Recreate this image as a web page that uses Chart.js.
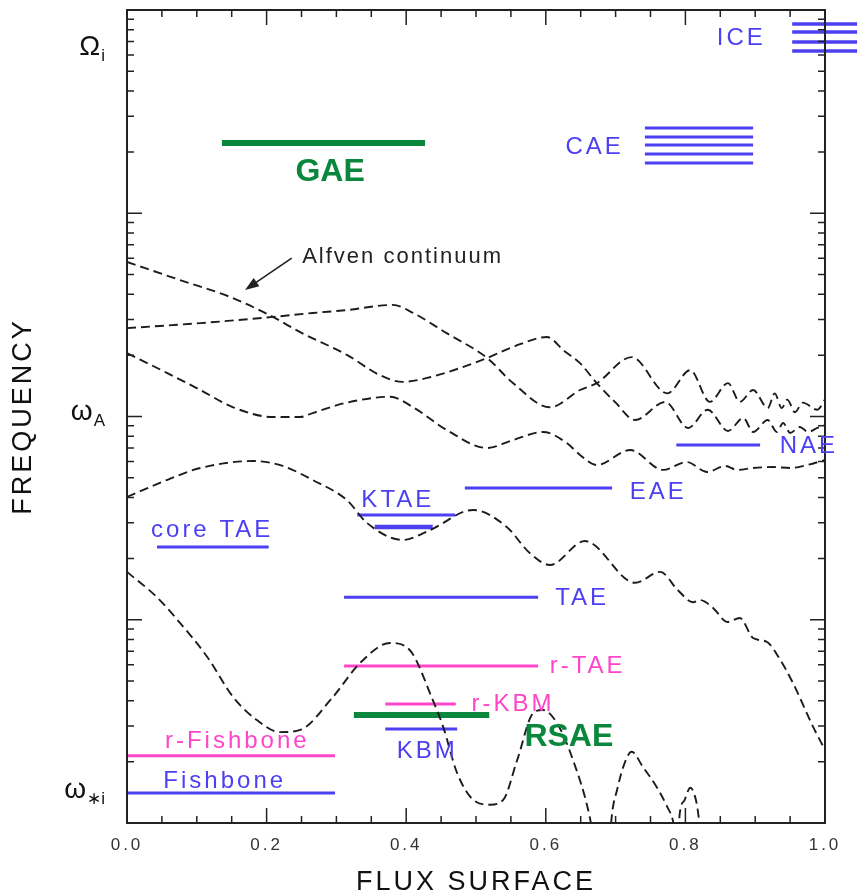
<!DOCTYPE html>
<html>
<head>
<meta charset="utf-8">
<title>Alfven continuum and mode frequencies</title>
<script src="https://cdn.jsdelivr.net/npm/chart.js@4"></script>
<style>
  html, body { margin: 0; padding: 0; background: #fff; }
  #wrap { width: 858px; height: 896px; }
</style>
</head>
<body>
<div id="wrap"><canvas id="freqChart"></canvas></div>
<script>
// Values. x = flux surface (0..1), y = frequency on a log axis (arbitrary units, 1..1e4)

// Alfven continuum branches (dashed)
const contA_x = [0.000, 0.076, 0.148, 0.209, 0.248, 0.315, 0.362, 0.395, 0.434, 0.481, 0.516, 0.553, 0.602, 0.625, 0.649, 0.673, 0.699, 0.728, 0.771, 0.804, 0.832, 0.861, 0.883, 0.897, 0.918, 0.931, 0.940, 0.950, 0.964, 0.976, 0.989, 1.000];
const contA_y = [576, 469, 387, 309, 260, 201, 160, 148, 156, 175, 194, 220, 246, 212, 183, 146, 118, 96.1, 118, 87.8, 108, 84.9, 98.3, 83.9, 96.1, 83.9, 92.9, 83.0, 88.8, 83.9, 87.8, 90.8];

const contB_x = [0.000, 0.105, 0.209, 0.266, 0.315, 0.381, 0.410, 0.458, 0.516, 0.553, 0.606, 0.649, 0.673, 0.723, 0.774, 0.807, 0.835, 0.861, 0.878, 0.897, 0.918, 0.928, 0.938, 0.946, 0.957, 0.968, 0.989, 1.000];
const contB_y = [272, 288, 309, 323, 334, 354, 323, 257, 194, 146, 111, 135, 146, 196, 130, 169, 118, 146, 118, 135, 110, 130, 110, 121, 105, 117, 108, 121];

const contC_x = [0.000, 0.057, 0.105, 0.152, 0.209, 0.248, 0.266, 0.315, 0.377, 0.410, 0.458, 0.516, 0.553, 0.596, 0.630, 0.649, 0.673, 0.721, 0.768, 0.802, 0.831, 0.857, 0.874, 0.897, 0.926, 0.950, 0.974, 1.000];
const contC_y = [205, 164, 135, 111, 99.4, 99.4, 104, 117, 125, 111, 85.8, 70.0, 76.6, 83.9, 74.1, 64.7, 57.7, 68.4, 54.6, 59.7, 53.3, 57.1, 54.6, 55.8, 56.4, 55.8, 57.7, 61.1];

const contD_x = [0.000, 0.057, 0.105, 0.181, 0.223, 0.266, 0.315, 0.344, 0.395, 0.434, 0.496, 0.544, 0.577, 0.606, 0.656, 0.728, 0.764, 0.789, 0.811, 0.821, 0.840, 0.860, 0.878, 0.897, 0.917, 0.936, 0.954, 0.983, 1.000];
const contD_y = [40.2, 48.7, 55.8, 60.4, 57.1, 48.7, 38.8, 29.9, 24.7, 27.6, 34.7, 28.6, 21.3, 18.6, 24.4, 15.2, 17.2, 14.0, 12.2, 12.5, 11.4, 9.75, 10.2, 8.13, 7.77, 6.34, 4.89, 2.97, 2.29];

// lowest branch dips to zero frequency (off the log axis) -> gaps
const contE_x = [0.000, 0.043, 0.076, 0.115, 0.152, 0.186, 0.219, 0.248, 0.295, 0.334, 0.377, 0.405, 0.438, 0.453, 0.473, 0.496, 0.520, 0.539, 0.559, 0.582, 0.596, 0.616, 0.639, 0.663, 0.668, 0.680, 0.692, 0.695, 0.702, 0.711, 0.723, 0.739, 0.759, 0.774, 0.782, 0.786, 0.788, 0.790, 0.792, 0.799, 0.807, 0.815, 0.819, 0.822];
const contE_y = [17.2, 12.9, 9.64, 6.56, 4.17, 3.21, 2.80, 2.87, 4.17, 6.13, 7.69, 7.10, 4.03, 2.97, 1.76, 1.30, 1.23, 1.30, 2.04, 3.48, 3.60, 3.10, 2.04, 1.07, 0.85, null, 0.85, 1.12, 1.45, 1.89, 2.24, 1.89, 1.50, 1.20, 1.03, 0.85, null, 0.90, 1.12, 1.30, 1.49, 1.30, 1.07, 0.85];

// Mode frequency bands: name, radial extent, frequency
const bandNames = ['GAE', 'CAE', 'CAE', 'CAE', 'CAE', 'CAE', 'ICE', 'ICE', 'ICE', 'ICE', 'NAE', 'EAE', 'KTAE', 'KTAE', 'core TAE', 'TAE', 'r-TAE', 'r-KBM', 'RSAE', 'KBM', 'r-Fishbone', 'Fishbone'];
const bandStart = [0.136, 0.742, 0.742, 0.742, 0.742, 0.742, 0.953, 0.953, 0.953, 0.953, 0.787, 0.484, 0.330, 0.355, 0.043, 0.311, 0.311, 0.370, 0.325, 0.370, 0.000, 0.000];
const bandEnd = [0.427, 0.897, 0.897, 0.897, 0.897, 0.897, 1.046, 1.046, 1.046, 1.046, 0.907, 0.695, 0.470, 0.438, 0.203, 0.589, 0.589, 0.471, 0.519, 0.473, 0.298, 0.298];
const bandFreq = [2216, 2627, 2373, 2167, 1957, 1767, 8533, 7796, 6960, 6285, 72.4, 44.5, 32.8, 28.6, 22.8, 12.9, 5.92, 3.85, 3.40, 2.90, 2.14, 1.405];

// Mode labels
const labelText = ['GAE', 'CAE', 'ICE', 'NAE', 'EAE', 'KTAE', 'core TAE', 'TAE', 'r-TAE', 'r-KBM', 'RSAE', 'KBM', 'r-Fishbone', 'Fishbone'];
const labelX = [0.291, 0.670, 0.880, 0.977, 0.761, 0.388, 0.122, 0.652, 0.660, 0.553, 0.633, 0.430, 0.158, 0.140];
const labelY = [1596, 2118, 7282, 71.6, 42.5, 38.8, 27.6, 12.7, 5.92, 3.85, 2.65, 2.24, 2.53, 1.61];

// Frequency tick labels (characteristic frequencies)
const tickMain = ['Ω', 'ω', 'ω'];
const tickSub = ['i', 'A', '∗i'];
const tickFreq = [6600, 105, 1.45];

// "Alfven continuum" annotation
const noteText = 'Alfven continuum';
const noteAt = { x: 0.251, y: 609 };
const arrowFrom = { x: 0.236, y: 602 };
const arrowTo = { x: 0.169, y: 419 };

const BLUE = '#4d3ff2';
const MAGENTA = '#ff45c9';
const GREEN = '#0a873c';
const INK = '#1c1c1c';
const FONT = "'Liberation Sans', Arial, sans-serif";

function colorFor(name) {
    if (name === 'GAE' || name === 'RSAE') return GREEN;
    if (name.startsWith('r-')) return MAGENTA;
    return BLUE;
}

function pts(xs, ys) {
    return xs.map((x, i) => ({ x: x, y: ys[i] }));
}

const datasets = [];
[[contA_x, contA_y], [contB_x, contB_y], [contC_x, contC_y], [contD_x, contD_y], [contE_x, contE_y]].forEach(c => {
    datasets.push({
        data: pts(c[0], c[1]),
        showLine: true,
        borderColor: INK,
        borderWidth: 1.9,
        borderDash: [9, 5],
        cubicInterpolationMode: 'monotone',
        spanGaps: false,
        pointRadius: 0
    });
});

bandNames.forEach((name, i) => {
    const green = colorFor(name) === GREEN;
    let w = 3;
    if (green) w = 6;
    else if (name === 'ICE') w = 3.5;
    else if (name === 'KTAE' && bandEnd[i] - bandStart[i] < 0.1) w = 4.5;
    datasets.push({
        data: [{ x: bandStart[i], y: bandFreq[i] }, { x: bandEnd[i], y: bandFreq[i] }],
        showLine: true,
        borderColor: colorFor(name),
        borderWidth: w,
        pointRadius: 0,
        clip: name === 'ICE' ? false : undefined
    });
});

// frame, inward tick marks, symbolic frequency labels and mode names
const decor = {
    id: 'decor',
    beforeDraw(chart) {
        chart.ctx.letterSpacing = '3px';
    },
    beforeDatasetsDraw(chart) {
        chart.ctx.letterSpacing = '0px';
    },
    afterDatasetsDraw(chart) {
        const { ctx, chartArea: a } = chart;
        const xs = chart.scales.x, ys = chart.scales.y;
        ctx.save();

        // frame
        ctx.strokeStyle = '#222';
        ctx.lineWidth = 2;
        ctx.strokeRect(a.left, a.top, a.right - a.left, a.bottom - a.top);

        // x ticks every 0.05, long every 0.2
        ctx.lineWidth = 1.5;
        ctx.beginPath();
        for (let k = 1; k < 20; k++) {
            const px = xs.getPixelForValue(k * 0.05);
            const len = k % 4 === 0 ? 15 : 7;
            ctx.moveTo(px, a.bottom); ctx.lineTo(px, a.bottom - len);
            ctx.moveTo(px, a.top); ctx.lineTo(px, a.top + len);
        }
        // y ticks at 1..9 x 10^d, long at decades
        for (let d = 0; d < 4; d++) {
            for (let m = 1; m <= 9; m++) {
                const v = m * Math.pow(10, d);
                if (v <= 1) continue;
                const py = ys.getPixelForValue(v);
                const len = m === 1 ? 15 : 7;
                ctx.moveTo(a.left, py); ctx.lineTo(a.left + len, py);
                ctx.moveTo(a.right, py); ctx.lineTo(a.right - len, py);
            }
        }
        ctx.stroke();

        // symbolic frequency labels
        ctx.fillStyle = '#111';
        ctx.textBaseline = 'alphabetic';
        tickMain.forEach((t, i) => {
            const base = ys.getPixelForValue(tickFreq[i]) + 8;
            ctx.font = '17px ' + FONT;
            const subW = ctx.measureText(tickSub[i]).width;
            const right = a.left - 22;
            ctx.textAlign = 'left';
            ctx.fillText(tickSub[i], right - subW, base + 6);
            ctx.font = '28px ' + FONT;
            ctx.textAlign = 'right';
            ctx.fillText(t, right - subW - 1, base);
        });

        // mode names
        ctx.textAlign = 'center';
        ctx.textBaseline = 'middle';
        labelText.forEach((t, i) => {
            const c = colorFor(t);
            ctx.fillStyle = c;
            if (c === GREEN) {
                ctx.letterSpacing = '0px';
                ctx.font = 'bold 32px ' + FONT;
            } else {
                ctx.letterSpacing = '3px';
                ctx.font = '24px ' + FONT;
            }
            ctx.fillText(t, xs.getPixelForValue(labelX[i]), ys.getPixelForValue(labelY[i]));
        });

        // continuum annotation with arrow
        ctx.letterSpacing = '2px';
        ctx.fillStyle = '#222';
        ctx.font = '22px ' + FONT;
        ctx.textAlign = 'left';
        ctx.fillText(noteText, xs.getPixelForValue(noteAt.x), ys.getPixelForValue(noteAt.y));
        const x0 = xs.getPixelForValue(arrowFrom.x), y0 = ys.getPixelForValue(arrowFrom.y);
        const x1 = xs.getPixelForValue(arrowTo.x), y1 = ys.getPixelForValue(arrowTo.y);
        const ang = Math.atan2(y1 - y0, x1 - x0);
        ctx.strokeStyle = '#222';
        ctx.lineWidth = 1.6;
        ctx.beginPath();
        ctx.moveTo(x0, y0);
        ctx.lineTo(x1 - 10 * Math.cos(ang), y1 - 10 * Math.sin(ang));
        ctx.stroke();
        ctx.beginPath();
        ctx.moveTo(x1, y1);
        ctx.lineTo(x1 - 14 * Math.cos(ang) + 5 * Math.sin(ang), y1 - 14 * Math.sin(ang) - 5 * Math.cos(ang));
        ctx.lineTo(x1 - 14 * Math.cos(ang) - 5 * Math.sin(ang), y1 - 14 * Math.sin(ang) + 5 * Math.cos(ang));
        ctx.closePath();
        ctx.fill();

        ctx.restore();
    }
};

new Chart(document.getElementById('freqChart'), {
    type: 'scatter',
    data: { datasets: datasets },
    options: {
        responsive: true,
        maintainAspectRatio: false,
        animation: false,
        layout: { padding: { top: 10, right: 33, left: 0, bottom: 0 } },
        plugins: { legend: { display: false }, tooltip: { enabled: false } },
        scales: {
            x: {
                type: 'linear',
                min: 0,
                max: 1,
                grid: { display: false },
                border: { display: false },
                ticks: {
                    stepSize: 0.2,
                    padding: 4,
                    color: '#333',
                    font: { family: FONT, size: 17 },
                    callback: v => v.toFixed(1)
                },
                title: {
                    display: true,
                    text: 'FLUX SURFACE',
                    color: '#111',
                    font: { family: FONT, size: 27, lineHeight: 1 },
                    padding: { top: 0, bottom: 0 }
                },
                afterFit: s => { s.height = 73; }
            },
            y: {
                type: 'logarithmic',
                min: 1,
                max: 10000,
                grid: { display: false },
                border: { display: false },
                ticks: { display: false },
                title: {
                    display: true,
                    text: 'FREQUENCY',
                    color: '#111',
                    font: { family: FONT, size: 27, lineHeight: 1 },
                    padding: { top: 10, bottom: 0 }
                },
                afterFit: s => { s.width = 127; }
            }
        }
    },
    plugins: [decor]
});
</script>
</body>
</html>
